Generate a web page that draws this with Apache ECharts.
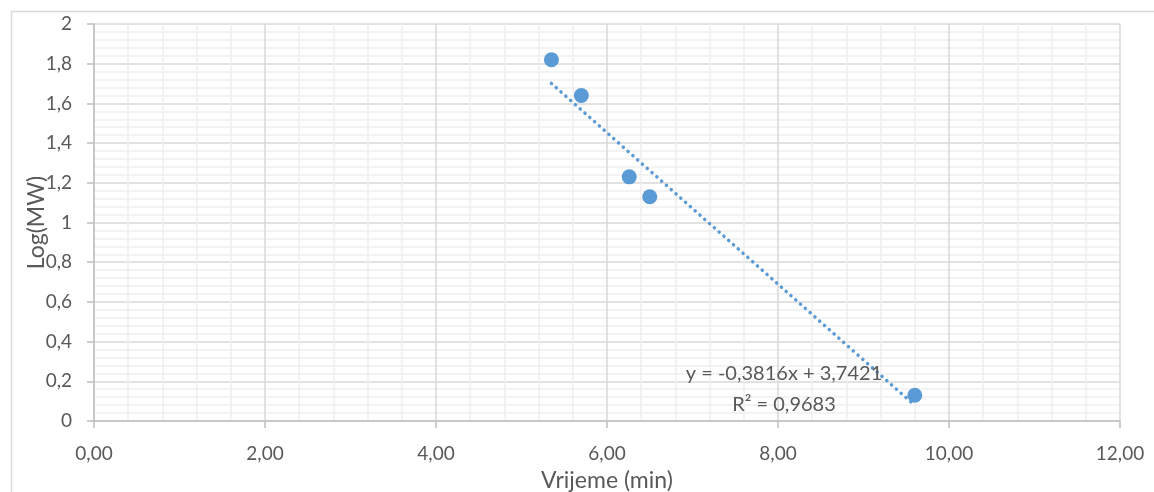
<!DOCTYPE html>
<html>
<head>
<meta charset="utf-8">
<script src="https://cdn.jsdelivr.net/npm/echarts@6/dist/echarts.min.js"></script>
<style>
html,body{margin:0;padding:0;background:#fff;}
#chart{width:1154px;height:492px;}
</style>
</head>
<body>
<div id="chart"></div>
<script>
// Data
var timeMin = [5.35, 5.70, 6.26, 6.50, 9.60];
var logMW = [1.82, 1.64, 1.23, 1.13, 0.13];
var trendCoef = [-0.3816, 3.7421]; // slope, intercept
var r2 = 0.9683;
var xTitle = 'Vrijeme (min)';
var yTitle = 'Log(MW)';

function fmtComma(v, d) { return v.toFixed(d).replace('.', ','); }
var points = timeMin.map(function (x, i) { return [x, logMW[i]]; });
var xMin = Math.min.apply(null, timeMin), xMax = Math.max.apply(null, timeMin);
var trend = [[xMin, trendCoef[0] * xMin + trendCoef[1]], [xMax, trendCoef[0] * xMax + trendCoef[1]]];
var eqText = 'y = ' + fmtComma(trendCoef[0], 4) + 'x + ' + fmtComma(trendCoef[1], 4) + '\nR² = ' + fmtComma(r2, 4);

var font = 'Lato, "Open Sans", sans-serif';
var txt = '#595959';
var chart = echarts.init(document.getElementById('chart'));
chart.setOption({
  animation: false,
  backgroundColor: '#fff',
  grid: { left: 94, right: 34, top: 24, bottom: 71, outerBoundsMode: 'none', containLabel: false },
  xAxis: {
    type: 'value', min: 0, max: 12, interval: 2,
    name: xTitle, nameLocation: 'middle', nameGap: 48, nameMoveOverlap: false,
    nameTextStyle: { color: txt, fontSize: 23, fontFamily: font },
    axisLine: { show: true, lineStyle: { color: '#bfbfbf', width: 1.5 } },
    axisTick: { show: true, length: 7, lineStyle: { color: '#bfbfbf', width: 1.5 } },
    axisLabel: { color: txt, fontSize: 19, fontFamily: font, margin: 23, formatter: function (v) { return fmtComma(v, 2); } },
    splitLine: { show: true, lineStyle: { color: '#d9d9d9', width: 1.5 } },
    minorTick: { show: false, splitNumber: 5 },
    minorSplitLine: { show: true, lineStyle: { color: '#efefef', width: 1.5 } }
  },
  yAxis: {
    type: 'value', min: 0, max: 2, interval: 0.2,
    name: yTitle, nameLocation: 'middle', nameGap: 46, nameRotate: 90, nameMoveOverlap: false,
    nameTextStyle: { color: txt, fontSize: 23, fontFamily: font },
    axisLine: { show: true, lineStyle: { color: '#bfbfbf', width: 1.5 } },
    axisTick: { show: true, length: 7, lineStyle: { color: '#bfbfbf', width: 1.5 } },
    axisLabel: { color: txt, fontSize: 19, fontFamily: font, margin: 22, formatter: function (v) { return String(+v.toFixed(1)).replace('.', ','); } },
    splitLine: { show: true, lineStyle: { color: '#d9d9d9', width: 1.5 } },
    minorTick: { show: false, splitNumber: 5 },
    minorSplitLine: { show: true, lineStyle: { color: '#efefef', width: 1.5 } }
  },
  graphic: [
    { type: 'rect', left: 9, top: 9, shape: { width: 1160, height: 500 }, style: { fill: 'none', stroke: '#d9d9d9', lineWidth: 1.5 }, silent: true, z: -1 },
    { type: 'text', left: 684, top: 358, style: { text: eqText, fill: txt, font: '20px ' + font, textAlign: 'center', lineHeight: 31, width: 200, align: 'center' }, z: 100 }
  ],
  series: [
    {
      type: 'line', data: trend, symbol: 'none', silent: true, z: 2,
      lineStyle: { color: '#5b9bd5', width: 3.5, type: [0.1, 6.3], cap: 'round' }
    },
    {
      type: 'scatter', data: points, symbol: 'circle', symbolSize: 15, z: 3,
      itemStyle: { color: '#5b9bd5', opacity: 1 }
    }
  ]
});
</script>
</body>
</html>
